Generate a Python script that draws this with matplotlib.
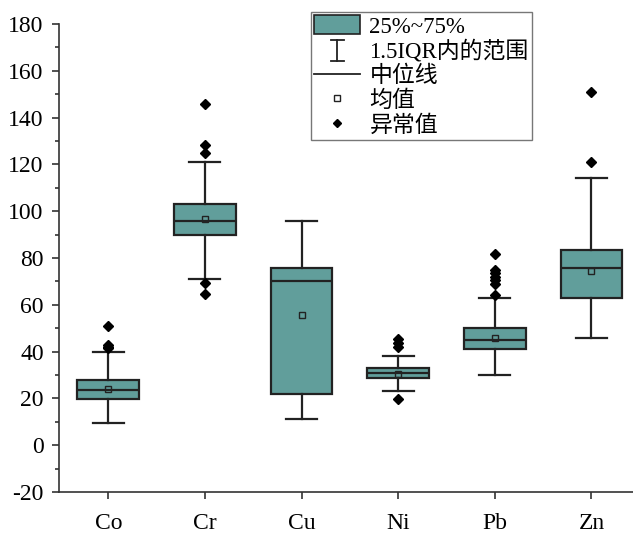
import matplotlib
matplotlib.use("Agg")
import matplotlib.pyplot as plt
from matplotlib.patches import Rectangle
from matplotlib.lines import Line2D
from matplotlib.legend_handler import HandlerBase

plt.rcParams['font.family'] = ['Liberation Serif', 'Noto Sans CJK SC']
plt.rcParams['axes.unicode_minus'] = False

categories = ['Co', 'Cr', 'Cu', 'Ni', 'Pb', 'Zn']
q1 = [19.7, 90.0, 21.8, 28.9, 40.9, 62.8]
med = [23.8, 95.9, 70.2, 30.9, 44.9, 75.9]
q3 = [27.8, 102.9, 75.8, 32.8, 50.0, 83.6]
mean = [24.0, 96.7, 55.6, 30.6, 45.9, 74.5]
whislo = [9.7, 70.9, 11.0, 23.0, 29.8, 45.7]
whishi = [39.9, 120.9, 95.9, 38.0, 62.9, 114.0]
fliers = [
    [50.9, 42.7, 42.0, 41.4],
    [145.7, 128.2, 125.0, 69.5, 64.8],
    [],
    [45.2, 43.5, 41.8, 19.7],
    [81.9, 74.8, 73.4, 71.9, 70.5, 68.8, 64.1],
    [150.9, 120.9],
]

box_color = '#619e9b'
edge = '#222222'

stats = []
for i, c in enumerate(categories):
    stats.append(dict(label=c, q1=q1[i], med=med[i], q3=q3[i], mean=mean[i],
                      whislo=whislo[i], whishi=whishi[i], fliers=fliers[i]))

fig = plt.figure(figsize=(6.33, 5.33), dpi=100)
ax = fig.add_axes([59/633, 41/533, 574/633, 468/533])

ax.bxp(stats, positions=range(1, 7), widths=0.64, patch_artist=True,
       showmeans=True, showfliers=True,
       boxprops=dict(facecolor=box_color, edgecolor=edge, linewidth=1.6),
       medianprops=dict(color=edge, linewidth=1.6),
       whiskerprops=dict(color=edge, linewidth=1.6),
       capprops=dict(color=edge, linewidth=1.6),
       meanprops=dict(marker='s', markerfacecolor='none', markeredgecolor=edge,
                      markersize=5, markeredgewidth=1.0),
       flierprops=dict(marker='D', markerfacecolor='black', markeredgecolor='black',
                       markersize=5))

ax.set_xlim(0.49, 6.43)
ax.set_ylim(-20, 180)
ax.set_yticks(range(-20, 181, 20))
ax.set_yticks(range(-10, 181, 20), minor=True)
ax.spines['top'].set_visible(False)
ax.spines['right'].set_visible(False)
for s in ['left', 'bottom']:
    ax.spines[s].set_linewidth(1.2)
    ax.spines[s].set_color('#333333')
ax.tick_params(axis='both', direction='out', labelsize=17, width=1.2, length=5, color='#333333')
ax.tick_params(axis='y', which='minor', direction='out', width=1.2, length=3, color='#333333')
ax.tick_params(axis='y', pad=6)
ax.tick_params(axis='x', pad=10)


class IHandler(HandlerBase):
    def create_artists(self, legend, orig_handle, xdescent, ydescent, width, height, fontsize, trans):
        cx = width / 2 - xdescent
        y0 = -ydescent - height * 0.1
        y1 = -ydescent + height * 1.0
        cw = width * 0.14
        arts = [Line2D([cx, cx], [y0, y1], color=edge, lw=1.3),
                Line2D([cx - cw, cx + cw], [y0, y0], color=edge, lw=1.3),
                Line2D([cx - cw, cx + cw], [y1, y1], color=edge, lw=1.3)]
        for a in arts:
            a.set_transform(trans)
        return arts


class IMarker:
    pass


h_box = Rectangle((0, 0), 1, 1, facecolor=box_color, edgecolor=edge, linewidth=1.2)
h_i = IMarker()
h_med = Line2D([], [], color=edge, lw=1.3)
h_mean = Line2D([], [], marker='s', markerfacecolor='none', markeredgecolor=edge,
                markersize=4, linestyle='none')
h_out = Line2D([], [], marker='D', markerfacecolor='black', markeredgecolor='black',
               markersize=4.5, linestyle='none')

leg = ax.legend([h_box, h_i, h_med, h_mean, h_out],
                ['25%~75%', '1.5IQR内的范围', '中位线', '均值', '异常值'],
                handler_map={IMarker: IHandler()},
                loc='upper left', bbox_to_anchor=(252/574, 1.026),
                fontsize=16.5, frameon=True, fancybox=False, edgecolor='#555555',
                borderpad=0.15, labelspacing=0.1, handlelength=2.0, handleheight=0.9,
                handletextpad=0.4, borderaxespad=0)
leg.get_frame().set_linewidth(1.0)

fig.savefig('out.png', dpi=100)
